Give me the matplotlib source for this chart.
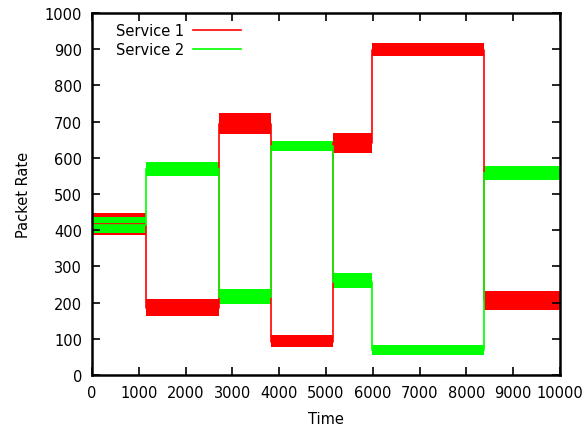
import numpy as np
import matplotlib
matplotlib.use("Agg")
import matplotlib.pyplot as plt

# segment boundaries (time) and per-segment packet-rate bands
edges = [0, 1150, 2710, 3820, 5160, 5980, 8370, 10000]

s1_mid = [418, 185, 693, 92, 640, 898, 206]
s1_lo = [388, 162, 665, 78, 612, 880, 180]
s1_hi = [448, 210, 725, 110, 668, 918, 232]

s2_mid = [415, 568, 215, 633, 256, 68, 557]
s2_lo = [392, 550, 195, 620, 240, 55, 540]
s2_hi = [436, 587, 238, 646, 282, 84, 577]

plt.rcParams['font.family'] = ['DejaVu Sans']
fig = plt.figure(figsize=(5.87, 4.31), dpi=100)
ax = fig.add_axes([0.1567, 0.1276, 0.7973, 0.84])


def draw_service(mid, lo, hi, color, label):
    # noisy band per segment, plus a step line that draws the jumps
    for i in range(len(mid)):
        ax.fill_between([edges[i], edges[i + 1]], lo[i], hi[i],
                        color=color, linewidth=0)
    xs, ys = [], []
    for i in range(len(mid)):
        xs += [edges[i], edges[i + 1]]
        ys += [mid[i], mid[i]]
    ax.plot(xs, ys, color=color, linewidth=1.2, label=label)


draw_service(s1_mid, s1_lo, s1_hi, '#ff0000', 'Service 1')
draw_service(s2_mid, s2_lo, s2_hi, '#00ff00', 'Service 2')

ax.set_xlim(0, 10000)
ax.set_ylim(0, 1000)
ax.set_xticks(np.arange(0, 10001, 1000))
ax.set_yticks(np.arange(0, 1001, 100))
ax.tick_params(direction='in', length=6, width=1.2, top=True, right=True,
               labelsize=10.5, pad=7, colors='black')
for sp in ax.spines.values():
    sp.set_linewidth(1.8)

ax.set_xlabel('Time', fontsize=10.5, labelpad=8)
ax.set_ylabel('Packet Rate', fontsize=10.5, labelpad=10)

ax.legend(loc='upper left', frameon=False, markerfirst=False, fontsize=10.5,
          handlelength=3.3, handletextpad=0.6, borderaxespad=0.3,
          labelspacing=0.25, bbox_to_anchor=(0.03, 1.0))

fig.savefig('out.png', dpi=100)
